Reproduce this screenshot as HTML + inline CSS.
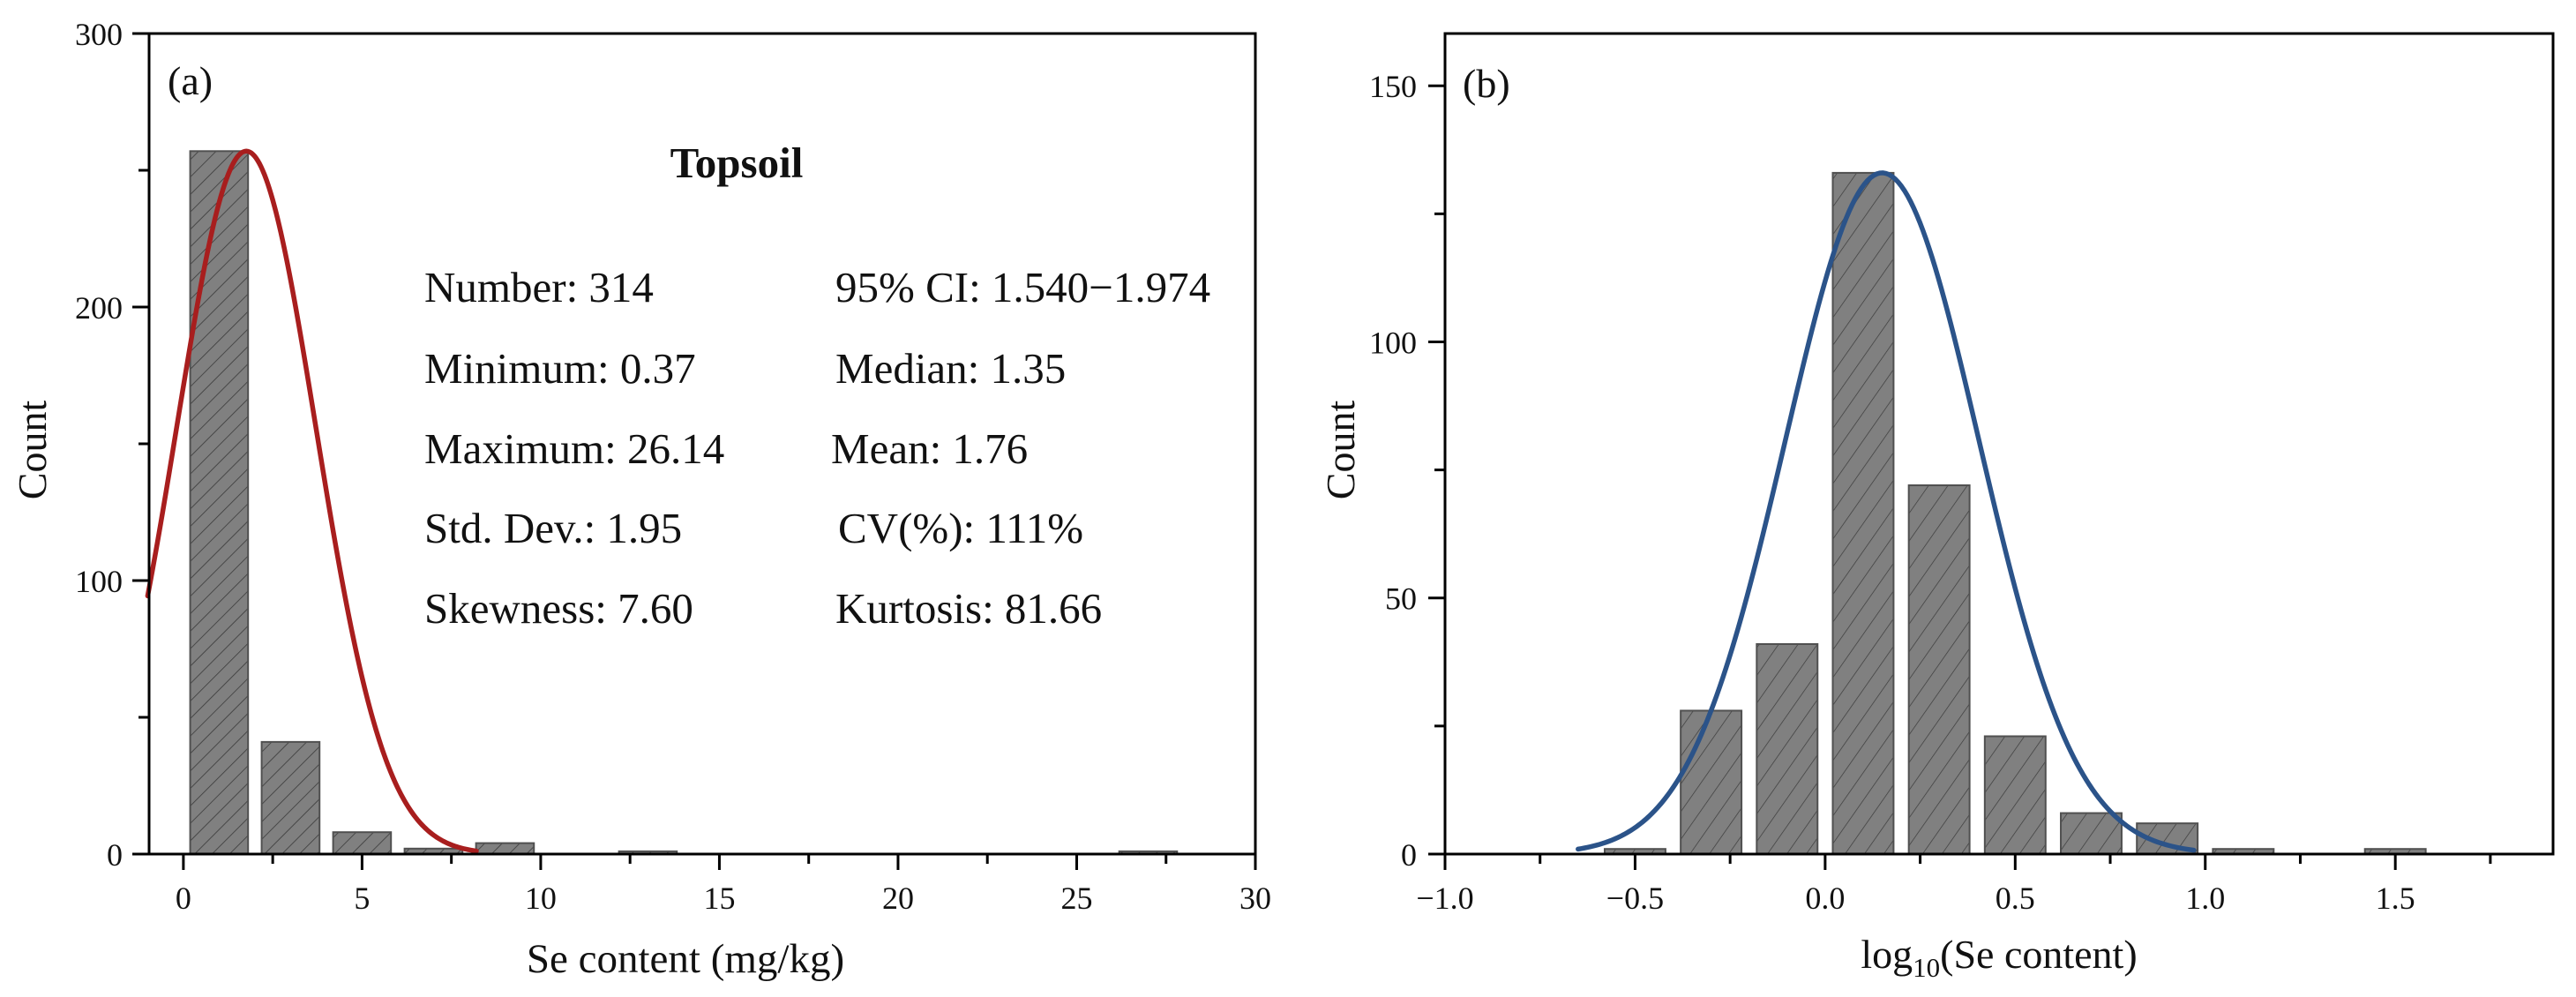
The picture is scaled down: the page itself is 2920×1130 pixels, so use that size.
<!DOCTYPE html>
<html><head><meta charset="utf-8">
<style>
html,body{margin:0;padding:0;background:#fff;}
svg{display:block;}
text{font-family:"Liberation Serif","Times New Roman",serif;fill:#111;}
</style></head>
<body>
<svg id="chart" width="2920" height="1130" viewBox="0 0 2920 1130" xmlns="http://www.w3.org/2000/svg">
<defs>
<pattern id="hatchA" patternUnits="userSpaceOnUse" width="14" height="14" patternTransform="rotate(45)">
<rect width="14" height="14" fill="#808080"/>
<line x1="0" y1="0" x2="0" y2="14" stroke="#3a3a3a" stroke-width="1.6"/>
</pattern>
<pattern id="hatchB" patternUnits="userSpaceOnUse" width="18" height="18" patternTransform="rotate(35)">
<rect width="18" height="18" fill="#808080"/>
<line x1="0" y1="0" x2="0" y2="18" stroke="#3a3a3a" stroke-width="1.4"/>
</pattern>
</defs>
<g id="panelA"></g>
<g id="panelB"></g>
</svg>
<script>
// ---- Panel (a) data ----
const aBinCenters = [1, 3, 5, 7, 9, 11, 13, 27];
const aCounts = [257, 41, 8, 2, 4, 0, 1, 1];
const aBarWidth = [1.62];
const aXTicks = [0, 5, 10, 15, 20, 25, 30];
const aYTicks = [0, 100, 200, 300];
const aFitMean = [1.76];
const aFitSd = [1.95];
const aFitPeak = [257];
const aFitRange = [-1, 8.2];
const aStatsLeft = ["Number: 314", "Minimum: 0.37", "Maximum: 26.14", "Std. Dev.: 1.95", "Skewness: 7.60"];
const aStatsRight = ["95% CI: 1.540\u22121.974", "Median: 1.35", "Mean: 1.76", "CV(%): 111%", "Kurtosis: 81.66"];

// ---- Panel (b) data ----
const bBinCenters = [-0.5, -0.3, -0.1, 0.1, 0.3, 0.5, 0.7, 0.9, 1.1, 1.3, 1.5];
const bCounts = [1, 28, 41, 133, 72, 23, 8, 6, 1, 0, 1];
const bBarWidth = [0.16];
const bXTicks = [-1.0, -0.5, 0.0, 0.5, 1.0, 1.5];
const bXTickLabels = ["\u22121.0", "\u22120.5", "0.0", "0.5", "1.0", "1.5"];
const bYTicks = [0, 50, 100, 150];
const bFitMean = [0.15];
const bFitSd = [0.255];
const bFitPeak = [133];
const bFitRange = [-0.65, 0.97];

const NS = "http://www.w3.org/2000/svg";
function mk(parent, tag, attrs, txt) {
  const e = document.createElementNS(NS, tag);
  for (const k in attrs) e.setAttribute(k, attrs[k]);
  if (txt !== undefined) e.textContent = txt;
  parent.appendChild(e);
  return e;
}

function drawPanel(g, cfg) {
  const L = cfg.left, R = cfg.right, T = 38, B = 968;
  const xs = v => L + (v - cfg.xmin) / (cfg.xmax - cfg.xmin) * (R - L);
  const ys = v => B - (v - cfg.ymin) / (cfg.ymax - cfg.ymin) * (B - T);

  cfg.centers.forEach((c, i) => {
    if (cfg.counts[i] <= 0) return;
    const x0 = xs(c - cfg.bw / 2), x1 = xs(c + cfg.bw / 2);
    const r = mk(g, "rect", {x: x0, y: ys(cfg.counts[i]), width: x1 - x0, height: B - ys(cfg.counts[i]),
      fill: "url(#" + cfg.hatch + ")", stroke: "#505050", "stroke-width": 2});
    
    
  });

  let d = "";
  const n = 200;
  for (let i = 0; i <= n; i++) {
    const x = cfg.fr[0] + (cfg.fr[1] - cfg.fr[0]) * i / n;
    const z = (x - cfg.mean) / cfg.sd;
    const y = cfg.peak * Math.exp(-0.5 * z * z);
    d += (i ? "L" : "M") + xs(x).toFixed(2) + "," + ys(y).toFixed(2);
  }
  const p = mk(g, "path", {d: d, fill: "none", stroke: cfg.color, "stroke-width": 5.5, "stroke-linecap": "round"});
  
  

  const fr = mk(g, "rect", {x: L, y: T, width: R - L, height: B - T, fill: "none", stroke: "#000", "stroke-width": 3});
  
  

  cfg.xticks.forEach((v, i) => {
    const x = xs(v);
    mk(g, "line", {x1: x, y1: B, x2: x, y2: B + 18, stroke: "#000", "stroke-width": 3});
    const t = mk(g, "text", {x: x, y: B + 62, "text-anchor": "middle", "font-size": 36}, cfg.xlabels ? cfg.xlabels[i] : String(v));
    
    
    if (i < cfg.xticks.length - 1) {
      const xm = xs(v + cfg.xminor);
      mk(g, "line", {x1: xm, y1: B, x2: xm, y2: B + 11, stroke: "#000", "stroke-width": 3});
    }
  });
  if (cfg.extraMinor) cfg.extraMinor.forEach(v => {
    const xm = xs(v);
    mk(g, "line", {x1: xm, y1: B, x2: xm, y2: B + 11, stroke: "#000", "stroke-width": 3});
  });

  cfg.yticks.forEach((v, i) => {
    const y = ys(v);
    mk(g, "line", {x1: L - 19, y1: y, x2: L, y2: y, stroke: "#000", "stroke-width": 3});
    const t = mk(g, "text", {x: L - cfg.ylabGap, y: y + 13, "text-anchor": "end", "font-size": 36}, String(v));
    
    
    if (i < cfg.yticks.length - 1) {
      const ym = ys(v + cfg.yminor);
      mk(g, "line", {x1: L - 12, y1: ym, x2: L, y2: ym, stroke: "#000", "stroke-width": 3});
    }
  });

  const yt = mk(g, "text", {x: cfg.ytitleX, y: 510, "text-anchor": "middle", "font-size": 46,
    transform: "rotate(-90 " + cfg.ytitleX + " 510)"}, "Count");
  
  
  return {xs, ys};
}

const gA = document.getElementById("panelA");
drawPanel(gA, {left: 169, right: 1423, xmin: -0.96, xmax: 30, ymin: 0, ymax: 300,
  centers: aBinCenters, counts: aCounts, bw: aBarWidth[0], hatch: "hatchA",
  mean: aFitMean[0], sd: aFitSd[0], peak: aFitPeak[0], fr: aFitRange, color: "#A81E1E",
  xticks: aXTicks, xminor: 2.5, yticks: aYTicks, yminor: 50, ylabGap: 30, ytitleX: 52});

const gB = document.getElementById("panelB");
drawPanel(gB, {left: 1638, right: 2894, xmin: -1.0, xmax: 1.915, ymin: 0, ymax: 160.2,
  centers: bBinCenters, counts: bCounts, bw: bBarWidth[0], hatch: "hatchB",
  mean: bFitMean[0], sd: bFitSd[0], peak: bFitPeak[0], fr: bFitRange, color: "#2B5389",
  xticks: bXTicks, xlabels: bXTickLabels, xminor: 0.25, extraMinor: [1.75],
  yticks: bYTicks, yminor: 25, ylabGap: 32, ytitleX: 1535});

let e;
e = mk(gA, "text", {x: 190, y: 107, "font-size": 46}, "(a)");
 
e = mk(gB, "text", {x: 1658, y: 110, "font-size": 46}, "(b)");
 
e = mk(gA, "text", {x: 777, y: 1102, "text-anchor": "middle", "font-size": 47}, "Se content (mg/kg)");
 
e = mk(gB, "text", {x: 2266, y: 1097, "text-anchor": "middle", "font-size": 46});
 
mk(e, "tspan", {}, "log");
mk(e, "tspan", {"font-size": 31, dy: 10}, "10");
mk(e, "tspan", {dy: -10}, "(Se content)");

e = mk(gA, "text", {x: 835, y: 201, "text-anchor": "middle", "font-size": 49, "font-weight": "bold"}, "Topsoil");
 
const rowY = [342, 434, 525, 615, 706];
const rightX = [947, 947, 942, 950, 947];
aStatsLeft.forEach((s, i) => {
  const t = mk(gA, "text", {x: 481, y: rowY[i], "font-size": 49}, s);
  
  
});
aStatsRight.forEach((s, i) => {
  const t = mk(gA, "text", {x: rightX[i], y: rowY[i], "font-size": 49}, s);
  
  
});
</script>
</body></html>
